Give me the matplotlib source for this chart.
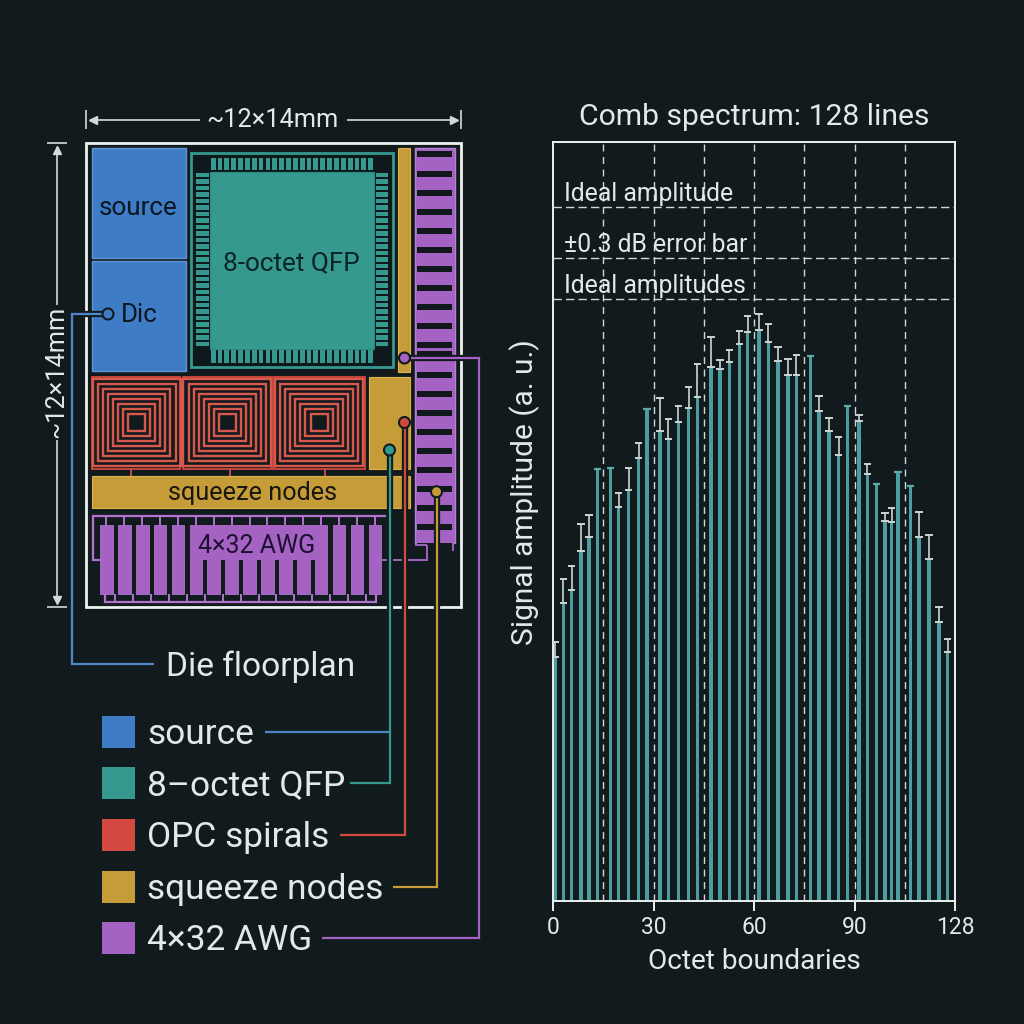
import numpy as np
import matplotlib
matplotlib.use("Agg")
import matplotlib.pyplot as plt
from matplotlib.patches import Rectangle, Circle

plt.rcParams["font.family"] = ["Roboto", "DejaVu Sans"]

BG = "#111b1e"
INK = "#e4e9e7"
DARK = "#0b1620"
BLUE = "#3f7cc6"
TEAL = "#35998f"
RED = "#d4493f"
GOLD = "#c69c38"
PURPLE = "#a462c2"
BAR = "#4b9ea0"
ERR = "#ccd6d3"

# comb spectrum, x in axis units, amplitudes in a.u.
line_pos = [0.6, 3.1, 5.6, 8.4, 10.7, 13.2, 17.1, 19.6, 22.6, 25.6, 28.1, 31.9, 34.4, 37.4,
            40.5, 43.1, 47.2, 49.8, 52.6, 55.6, 58.1, 61.5, 64.3, 67.2, 70.2, 72.6, 76.8,
            79.4, 82.4, 85.3, 88.0, 91.3, 93.8, 96.5, 99.1, 101.1, 103.0, 106.8, 109.3,
            112.2, 115.2, 117.8]
err_top = [259, 322, 335, 377, 386, 432, 433, 408, 433, 458, 492, 503, 482, 495,
           514, 537, 564, 541, 551, 570, 585, 587, 577, 554, 542, 546, 545,
           505, 483, 464, 495, 486, 437, 417, 388, 393, 429, 415, 389,
           366, 294, 262]
err_low = [244, 298, 311, 350, 364, None, None, 394, 411, 443, None, 470, 462, 479,
           493, 504, 534, 532, 539, 557, 569, 571, 559, 540, 526, 526, None,
           490, 470, 446, None, 480, 427, None, 380, 379, None, None, 364,
           342, 279, 249]
x_ticks = [0, 30, 60, 90, 120]
x_tick_labels = ["0", "30", "60", "90", "128"]
octet_edges = [15, 30, 45, 60, 75, 90, 105]
ideal_levels = [694, 643, 602]
ideal_labels = ["Ideal amplitude", "±0.3 dB error bar", "Ideal amplitudes"]

legend_names = ["source", "8–octet QFP", "OPC spirals", "squeeze nodes", "4×32 AWG"]
legend_colors = [BLUE, TEAL, RED, GOLD, PURPLE]
legend_y = [731.5, 783, 835, 886.5, 938]

fig = plt.figure(figsize=(10.24, 10.24), dpi=100, facecolor=BG)

# ── full-page layer in pixel coordinates for the floorplan ───────────────────
pg = fig.add_axes([0, 0, 1, 1])
pg.set_xlim(0, 1024); pg.set_ylim(1024, 0); pg.axis("off")


def box(x0, y0, x1, y1, fc, ec="none", lw=0.0, z=2):
    pg.add_patch(Rectangle((x0, y0), x1 - x0, y1 - y0, fc=fc, ec=ec, lw=lw, zorder=z))


def seg(xs, ys, color, lw=1.5, z=3):
    pg.plot(xs, ys, color=color, lw=lw, solid_capstyle="butt", solid_joinstyle="miter", zorder=z)


def wire(xs, ys, color):
    seg(xs, ys, BG, lw=4.5, z=6)
    seg(xs, ys, color, lw=1.6, z=7)


def dot(x, y, color, r=5.5):
    pg.add_patch(Circle((x, y), r, fc=color, ec=BG, lw=1.5, zorder=8))


# die outline
box(86, 143, 461, 607, "none", "#eef2f0", 2.0)

# source / Dic
box(92, 148, 186, 258, BLUE, "#5d97d8", 1.0)
box(92, 261, 186, 371, BLUE, "#5d97d8", 1.0)
pg.text(138.5, 208, "source", color=DARK, fontsize=18.7, ha="center", va="center", zorder=5)
pg.text(139.5, 315, "Dic", color=DARK, fontsize=18.7, ha="center", va="center", zorder=5)

# QFP
box(191, 153, 393, 367, "#0f181b", TEAL, 2.0)
box(210, 172, 374, 349, TEAL, "#2f8a82", 0.8)
for i in range(24):
    x0 = 210.7 + i * 6.85
    box(x0, 157.7, x0 + 4.8, 170, TEAL)
    box(x0, 350, x0 + 4.8, 362.7, TEAL)
for i in range(27):
    y0 = 172.7 + i * 6.5
    box(195.7, y0, 208.7, y0 + 4.6, TEAL)
    box(375.7, y0, 388.3, y0 + 4.6, TEAL)
pg.text(291.5, 263, "8-octet QFP", color="#0b2426", fontsize=18.8, ha="center", va="center", zorder=5)

# gold strip + purple comb on the right
box(398, 148, 410, 371.7, GOLD, "#dcb24a", 0.8)
box(414.5, 148, 455.3, 543, PURPLE, "#b77fd0", 1.0)
box(417, 543, 452, 546, BG)
slot_y = [154.3, 174.3, 193.3, 212.3, 231.3, 250.3, 269.3, 288.3, 307.3, 326.3, 345.3, 354,
          375, 394, 413, 432, 451, 470, 489, 508, 527]
for y in slot_y:
    box(417, y - 3, 452, y + 3, "#10181c", z=3)
seg([427, 427, 380], [545, 560, 560], PURPLE, 1.4)
seg([415, 427], [545, 545], PURPLE, 1.4)
seg([453, 453], [543, 551], PURPLE, 1.4)

# OPC spirals
for cx, x0, x1, stub in [(136.7, 92, 180, 130.7), (227.3, 183.3, 271.7, 230), (319, 274, 365, 325.3)]:
    box(x0, 376.7, x1, 468.7, "none", RED, 1.3)
    for k in range(8):
        h = 8.5 + 5.05 * k
        pg.add_patch(Rectangle((cx - h, 422.5 - h), 2 * h, 2 * h, fc="none", ec="#d9584c", lw=1.7, zorder=3))
    seg([stub, stub], [468.7, 476], "#d9584c", 1.2)

# squeeze nodes
box(369.3, 376.7, 410, 468.7, GOLD, "#dcb24a", 0.8)
box(92, 476, 410, 508.3, GOLD, "#dcb24a", 0.8)
pg.text(253, 493, "squeeze nodes", color="#17160f", fontsize=18.2, ha="center", va="center", zorder=5)

# AWG
seg([100, 92.7, 92.7, 386], [560, 560, 516, 516], "#b173cd", 1.6)
seg([105, 105, 376, 376], [594, 602, 602, 594], "#b173cd", 1.6)
for i in range(16):
    x0 = 100 + i * 17.9
    box(x0, 525, x0 + 12.7, 594, PURPLE, "#b173cd", 0.6)
    seg([x0 + 6.3, x0 + 6.3], [516, 525], "#b173cd", 1.4)
    if i < 15:
        seg([x0 + 15.3, x0 + 15.3], [594, 602], "#b173cd", 1.4)
box(190, 525, 327, 560, PURPLE)
pg.text(256.7, 546, "4×32 AWG", color="#1d1030", fontsize=18, ha="center", va="center", zorder=5)

# dimension lines
for xs, ys in [((86, 86), (110, 129)), ((461, 461), (110, 129)), ((47, 67), (143, 143)), ((47, 67), (607, 607))]:
    seg(xs, ys, "#d5dad8", 1.2)
seg([90, 200], [120, 120], "#d5dad8", 1.2)
seg([347, 457], [120, 120], "#d5dad8", 1.2)
seg([57, 57], [147, 305], "#d5dad8", 1.2)
seg([57, 57], [440, 603], "#d5dad8", 1.2)
pg.plot(93, 120, marker="<", ms=6, color="#d5dad8", zorder=4)
pg.plot(454, 120, marker=">", ms=6, color="#d5dad8", zorder=4)
pg.plot(57, 150, marker="^", ms=6, color="#d5dad8", zorder=4)
pg.plot(57, 600, marker="v", ms=6, color="#d5dad8", zorder=4)
pg.text(272.5, 120, "~12×14mm", color=INK, fontsize=18.2, ha="center", va="center")
pg.text(56, 372, "~12×14mm", color=INK, fontsize=18.2, ha="center", va="center", rotation=90)

# leader wires
wire([154, 72, 72, 108], [664, 664, 314, 314], "#4f86c6")
wire([265, 389], [731.5, 731.5], "#4f86c6")
wire([350, 389.5, 389.5], [783, 783, 450], TEAL)
wire([340, 404.5, 404.5], [835, 835, 422.5], RED)
wire([393, 436.5, 436.5], [886.5, 886.5, 491.7], GOLD)
wire([322, 479, 479, 404.5], [938, 938, 358, 358], PURPLE)
dot(108, 314, BLUE)
dot(389.5, 450, TEAL)
dot(404.5, 422.5, RED)
dot(436.5, 491.7, GOLD)
dot(404.5, 358, PURPLE)

pg.text(166, 666.5, "Die floorplan", color=INK, fontsize=24.1, ha="left", va="center")

# legend swatches and names
for name, col, y in zip(legend_names, legend_colors, legend_y):
    box(102.3, y - 16, 134.7, y + 16, col)
    pg.text(147, y + 3, name, color=INK, fontsize=25.4, ha="left", va="center")

# ── comb spectrum ────────────────────────────────────────────────────────────
ax = fig.add_axes([553 / 1024, (1024 - 901) / 1024, 402 / 1024, 759 / 1024])
ax.patch.set_alpha(0)
ax.set_xlim(0, 120); ax.set_ylim(0, 759)

pos = np.array(line_pos)
top = np.array(err_top, dtype=float)
low = np.array([np.nan if v is None else v for v in err_low], dtype=float)
has_err = ~np.isnan(low)

for e in octet_edges:
    ax.axvline(e, color="#cfd6d4", lw=1.0, dashes=(5, 4), zorder=3)
for lev, lab in zip(ideal_levels, ideal_labels):
    ax.axhline(lev, color="#cfd6d4", lw=1.0, dashes=(6, 3), zorder=3)
    ax.text(3.4, lev + 0.5, lab, color=INK, fontsize=17.8, ha="left", va="bottom", zorder=5)

ax.bar(pos, np.where(has_err, low, top), width=1.0, color=BAR, zorder=2)
# lines with no visible error bar end in a plain teal cap
ax.hlines(top[~has_err], pos[~has_err] - 1.1, pos[~has_err] + 1.1, color="#5eaaa9", lw=1.6, zorder=4)
ax.errorbar(pos[has_err], low[has_err], yerr=[np.zeros(has_err.sum()), (top - low)[has_err]],
            fmt="none", ecolor=ERR, elinewidth=1.2, capsize=0, zorder=4)
ax.hlines(top[has_err], pos[has_err] - 1.1, pos[has_err] + 1.1, color=ERR, lw=1.4, zorder=4)
ax.hlines(low[has_err], pos[has_err] - 1.1, pos[has_err] + 1.1, color=ERR, lw=1.4, zorder=4)

for s in ax.spines.values():
    s.set_color("#eef2f0"); s.set_linewidth(1.4)
ax.set_yticks([])
ax.set_xticks(x_ticks)
ax.set_xticklabels(x_tick_labels, fontsize=16.5, color=INK)
ax.tick_params(axis="x", colors="#eef2f0", length=7, width=1.4, labelcolor=INK, pad=4)
ax.set_xlabel("Octet boundaries", fontsize=20.2, color=INK, labelpad=6)
ax.set_ylabel("Signal amplitude (a. u.)", fontsize=21.5, color=INK)
ax.yaxis.set_label_coords(-13 / 402, (901 - 492) / 759)
ax.set_title("Comb spectrum: 128 lines", fontsize=21.7, color=INK, pad=12)

fig.savefig("out.png", dpi=100, facecolor=BG)
plt.close(fig)
